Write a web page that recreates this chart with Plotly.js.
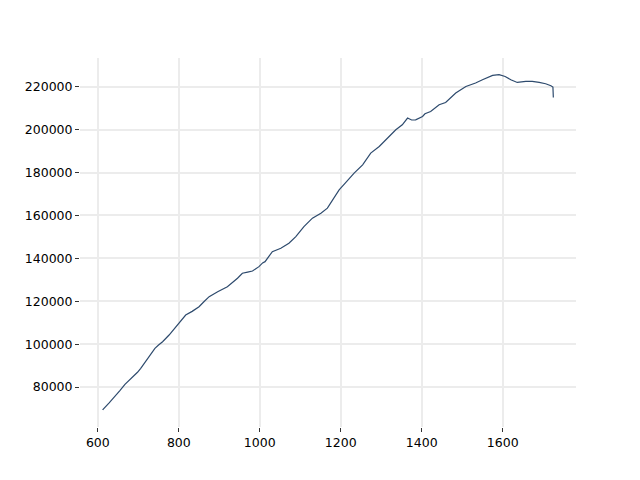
<!DOCTYPE html>
<html>
<head>
<meta charset="utf-8">
<script src="https://cdn.plot.ly/plotly-3.0.1.min.js"></script>
<style>html,body{margin:0;padding:0;background:#fff}#chart{width:640px;height:480px}</style>
</head>
<body>
<div id="chart"></div>
<script>
const xValues = [612, 613, 628, 644, 655, 667, 678, 690, 698, 706, 719, 727, 741, 750, 760, 776, 793, 805, 817, 833, 850, 862, 875, 896, 920, 945, 957, 970, 982, 998, 1007, 1013, 1031, 1052, 1072, 1089, 1109, 1130, 1151, 1167, 1180, 1196, 1211, 1233, 1254, 1274, 1295, 1315, 1336, 1352, 1365, 1375, 1385, 1402, 1408, 1422, 1443, 1459, 1484, 1509, 1533, 1550, 1575, 1591, 1606, 1620, 1636, 1657, 1673, 1690, 1706, 1719, 1724, 1725];
const yValues = [69300, 69600, 72600, 75800, 78500, 81260, 83300, 85130, 86900, 88730, 92270, 94140, 98060, 99600, 101140, 104270, 108140, 110600, 113600, 115300, 117470, 119800, 122140, 124470, 126800, 130730, 133060, 133600, 134130, 136140, 137900, 138470, 143140, 144730, 147060, 150140, 154810, 158730, 161060, 163400, 167270, 171940, 175060, 179730, 183600, 189060, 192140, 196060, 199930, 202270, 205400, 204500, 204600, 206130, 207400, 208470, 211600, 212670, 217060, 220140, 221730, 223270, 225270, 225600, 224800, 223270, 222000, 222470, 222470, 222000, 221400, 220470, 219860, 215000];
const xTicks = [600, 800, 1000, 1200, 1400, 1600];
const yTicks = [80000, 100000, 120000, 140000, 160000, 180000, 200000, 220000];

const trace = {
  x: xValues, y: yValues, type: 'scatter', mode: 'lines',
  line: {color: '#2d4a6d', width: 1.2}, hoverinfo: 'none'
};
const axisCommon = {
  showgrid: true, gridcolor: '#ececec', gridwidth: 2,
  zeroline: false, showline: false,
  ticks: 'outside', ticklen: 4, tickwidth: 1, tickcolor: '#333',
  tickfont: {family: 'DejaVu Sans', size: 12.5, color: '#000'}
};
const layout = {
  width: 640, height: 480,
  margin: {l: 80, r: 64, t: 58, b: 53},
  paper_bgcolor: '#fff', plot_bgcolor: '#fff',
  showlegend: false,
  xaxis: Object.assign({}, axisCommon, {range: [556, 1781], tickvals: xTicks, ticktext: xTicks.map(String)}),
  yaxis: Object.assign({}, axisCommon, {range: [61400, 233400], tickvals: yTicks, ticktext: yTicks.map(String)})
};
Plotly.newPlot('chart', [trace], layout, {displayModeBar: false, staticPlot: true});
</script>
</body>
</html>
